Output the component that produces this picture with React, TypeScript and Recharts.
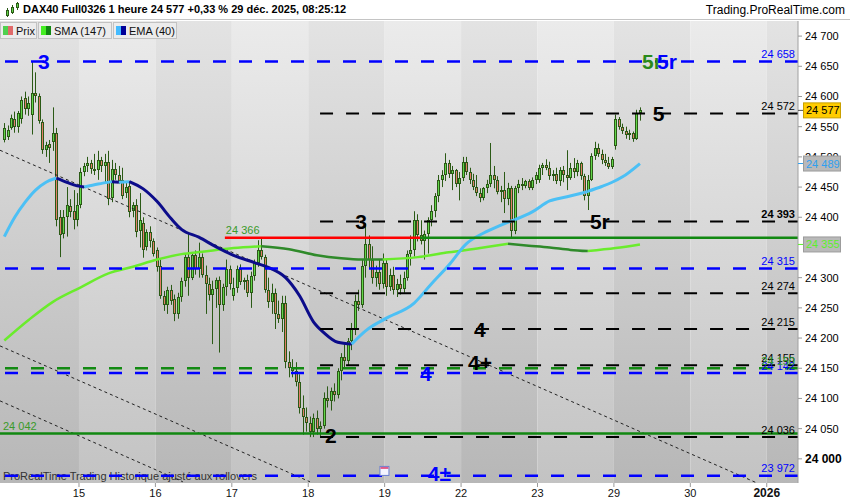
import React from 'react';
import {
  ComposedChart,
  Bar,
  Line,
  XAxis,
  YAxis,
  ReferenceLine,
  ReferenceArea,
  ReferenceDot,
} from 'recharts';

const FONT = '"Liberation Sans", Arial, sans-serif';

// barres horaires [ouverture, haut, bas, clôture], une liste par séance
const dec12 = [
  [24528, 24556, 24524, 24548], [24533, 24552, 24528, 24545], [24548, 24570, 24545, 24565],
  [24562, 24575, 24540, 24550], [24550, 24576, 24540, 24572], [24562, 24600, 24555, 24595],
  [24598, 24608, 24570, 24580], [24580, 24600, 24568, 24590], [24570, 24657, 24537, 24605],
  [24605, 24640, 24590, 24600], [24600, 24605, 24555, 24560], [24558, 24562, 24505, 24512],
  [24512, 24525, 24500, 24520], [24522, 24528, 24490, 24515], [24525, 24582, 24510, 24540],
  [24540, 24548, 24385, 24395], [24400, 24412, 24334, 24370], [24372, 24412, 24365, 24400],
  [24400, 24450, 24368, 24420], [24418, 24430, 24400, 24408], [24410, 24445, 24380, 24395],
  [24395, 24440, 24385, 24420],
];
const dec15 = [
  [24420, 24482, 24415, 24475], [24475, 24490, 24468, 24485], [24485, 24500, 24475, 24490],
  [24490, 24495, 24472, 24480], [24480, 24505, 24470, 24478], [24478, 24510, 24462, 24495],
  [24495, 24500, 24475, 24485], [24485, 24505, 24457, 24492], [24492, 24510, 24420, 24430],
  [24432, 24495, 24425, 24480], [24480, 24490, 24462, 24470], [24470, 24485, 24455, 24460],
  [24462, 24482, 24430, 24435], [24440, 24458, 24432, 24450], [24452, 24460, 24400, 24408],
  [24410, 24425, 24400, 24420], [24420, 24430, 24367, 24375], [24378, 24440, 24350, 24395],
  [24390, 24400, 24333, 24345], [24350, 24380, 24345, 24375], [24375, 24385, 24350, 24360],
  [24360, 24365, 24335, 24340],
];
const dec16 = [
  [24345, 24350, 24310, 24318], [24320, 24330, 24265, 24270], [24270, 24278, 24245, 24255],
  [24255, 24285, 24240, 24280], [24280, 24288, 24255, 24262], [24265, 24272, 24228, 24240],
  [24240, 24275, 24232, 24268], [24268, 24300, 24260, 24295], [24295, 24340, 24285, 24335],
  [24335, 24372, 24270, 24300], [24300, 24342, 24296, 24338], [24338, 24345, 24305, 24315],
  [24315, 24358, 24300, 24335], [24335, 24340, 24300, 24305], [24305, 24320, 24240, 24290],
  [24290, 24300, 24262, 24272], [24272, 24295, 24190, 24282], [24282, 24300, 24250, 24296],
  [24296, 24302, 24176, 24255], [24255, 24290, 24245, 24285], [24285, 24330, 24270, 24315],
  [24315, 24320, 24280, 24290],
];
const dec17 = [
  [24270, 24300, 24262, 24283], [24283, 24320, 24275, 24315], [24315, 24322, 24288, 24292],
  [24292, 24300, 24280, 24296], [24296, 24305, 24268, 24275], [24275, 24310, 24250, 24302],
  [24302, 24330, 24295, 24325], [24325, 24362, 24318, 24345], [24345, 24366, 24330, 24335],
  [24335, 24338, 24275, 24280], [24280, 24300, 24250, 24260], [24260, 24290, 24240, 24275],
  [24275, 24282, 24215, 24240], [24240, 24262, 24225, 24232], [24232, 24270, 24210, 24258],
  [24258, 24270, 24150, 24160], [24160, 24178, 24135, 24150], [24150, 24165, 24135, 24145],
  [24145, 24160, 24120, 24128], [24128, 24140, 24075, 24085], [24085, 24105, 24040, 24070],
  [24070, 24085, 24045, 24060],
];
const dec18 = [
  [24060, 24070, 24036, 24045], [24045, 24075, 24036, 24068], [24068, 24080, 24040, 24050],
  [24050, 24062, 24038, 24055], [24055, 24110, 24050, 24100], [24100, 24120, 24085, 24095],
  [24095, 24118, 24080, 24112], [24112, 24125, 24095, 24105], [24105, 24150, 24100, 24145],
  [24145, 24175, 24130, 24168], [24168, 24190, 24150, 24162], [24162, 24200, 24155, 24195],
  [24195, 24225, 24180, 24215], [24215, 24272, 24205, 24262], [24262, 24280, 24245, 24255],
  [24255, 24330, 24250, 24320], [24320, 24390, 24300, 24355], [24355, 24370, 24315, 24330],
  [24330, 24352, 24290, 24300], [24300, 24320, 24285, 24310], [24310, 24330, 24280, 24290],
  [24290, 24340, 24282, 24325],
];
const dec19 = [
  [24325, 24330, 24270, 24285], [24285, 24315, 24278, 24305], [24305, 24318, 24272, 24280],
  [24280, 24298, 24268, 24290], [24290, 24305, 24272, 24282], [24282, 24310, 24275, 24300],
  [24300, 24345, 24295, 24340], [24340, 24370, 24320, 24345], [24345, 24410, 24335, 24395],
  [24395, 24405, 24360, 24370], [24370, 24395, 24355, 24360], [24360, 24378, 24330, 24372],
  [24372, 24400, 24340, 24395], [24395, 24420, 24385, 24410], [24410, 24440, 24400, 24435],
  [24435, 24470, 24425, 24462], [24462, 24478, 24450, 24470], [24470, 24506, 24460, 24490],
  [24490, 24495, 24465, 24472], [24472, 24485, 24445, 24478], [24478, 24480, 24450, 24455],
  [24455, 24475, 24428, 24465],
];
const dec22 = [
  [24465, 24500, 24460, 24492], [24492, 24500, 24470, 24475], [24475, 24482, 24455, 24462],
  [24462, 24472, 24445, 24450], [24450, 24470, 24435, 24440], [24440, 24448, 24425, 24432],
  [24432, 24450, 24428, 24448], [24448, 24462, 24440, 24455], [24455, 24523, 24450, 24470],
  [24470, 24485, 24448, 24462], [24462, 24468, 24438, 24442], [24442, 24452, 24425, 24445],
  [24445, 24475, 24407, 24430], [24430, 24457, 24420, 24448], [24448, 24452, 24367, 24378],
  [24378, 24452, 24372, 24448], [24448, 24462, 24440, 24455], [24455, 24465, 24445, 24452],
  [24452, 24462, 24448, 24460], [24460, 24463, 24445, 24448], [24448, 24466, 24445, 24462],
  [24462, 24475, 24455, 24470],
];
const dec23 = [
  [24462, 24487, 24457, 24482], [24482, 24490, 24470, 24486], [24486, 24496, 24478, 24482],
  [24482, 24492, 24462, 24468], [24468, 24478, 24460, 24472], [24472, 24482, 24455, 24460],
  [24460, 24483, 24452, 24478], [24478, 24485, 24458, 24470], [24470, 24511, 24445, 24465],
  [24465, 24490, 24462, 24482], [24482, 24498, 24465, 24475], [24475, 24495, 24468, 24490],
  [24490, 24492, 24462, 24468], [24468, 24472, 24428, 24435], [24435, 24470, 24412, 24462],
  [24462, 24506, 24460, 24502], [24502, 24525, 24495, 24515], [24515, 24522, 24500, 24505],
  [24505, 24512, 24488, 24495], [24495, 24505, 24485, 24490], [24490, 24500, 24480, 24484],
  [24484, 24500, 24480, 24497],
];
const dec29 = [
  [24518, 24570, 24512, 24562], [24562, 24566, 24545, 24550], [24550, 24555, 24538, 24543],
  [24543, 24550, 24530, 24536], [24536, 24545, 24528, 24540], [24540, 24542, 24525, 24530],
  [24530, 24578, 24528, 24572], [24572, 24582, 24560, 24577],
];
const sessions = [dec12, dec15, dec16, dec17, dec18, dec19, dec22, dec23, dec29];

// axe des temps (indice de barre)
const X_MIN = -1.24;
const X_MAX = 228.5;
const dayTicks = [21.5, 43.5, 65.5, 87.5, 109.5, 131.5, 153.5, 175.5, 197.5, 219.5];
const dayLabels = ['15', '16', '17', '18', '19', '22', '23', '29', '30', '2026'];
// 24 350 est masqué par le repère de la SMA
const priceTicks = [
  24000, 24050, 24100, 24150, 24200, 24250, 24300,
  24400, 24450, 24500, 24550, 24600, 24650, 24700,
];

// moyennes [indice, valeur]
const ema40 = [
  [0, 24368], [3, 24400], [6, 24425], [9, 24445], [12, 24458], [15, 24465], [18, 24458],
  [21, 24452], [23, 24450], [27, 24455], [31, 24459], [33, 24458], [36, 24459], [40, 24447],
  [44, 24426], [48, 24398], [51, 24380], [56, 24367], [61, 24351], [66, 24337], [72, 24325],
  [76, 24317], [81, 24300], [85, 24270], [89, 24227], [92, 24209], [96, 24193], [100, 24190],
  [104, 24212], [110, 24233], [118, 24258], [123, 24290], [128, 24321], [133, 24356],
  [138, 24374], [143, 24387], [146, 24394], [147, 24396], [152, 24409], [157, 24427],
  [162, 24434], [167, 24441], [168, 24443], [172, 24451], [175, 24458], [178, 24467], [183, 24489],
];
const emaTurns = [0, 15, 23, 31, 33, 36, 100, 146, 147, 167, 168, 183];
const sma147 = [
  [0, 24196], [7, 24230], [14, 24260], [22, 24284], [30, 24307], [37, 24318], [44, 24330],
  [51, 24339], [57, 24343], [66, 24349], [74, 24352], [82, 24347], [90, 24337], [97, 24332],
  [103, 24330], [109, 24330], [119, 24334], [128, 24342], [137, 24349], [145, 24356],
  [151, 24353], [157, 24350], [163, 24346], [168, 24344], [176, 24349], [183, 24355],
];
const smaTurns = [0, 74, 109, 145, 168, 183];

// niveaux
const blueLevels = [24658, 24315, 24142, 23972];
const blackLevels = [24572, 24393, 24274, 24215, 24155, 24036];
const greenDashLevels = [24150];
const supportLevel = 24042;
const resistLevel = 24366;
const lastPrice = 24577;
const lastEma = 24489;
const lastSma = 24355;

const candles = sessions.flat().map((b, i) => ({
  i,
  o: b[0],
  h: b[1],
  l: b[2],
  c: b[3],
  range: [b[2], b[1]],
}));

// segments montants / descendants (couleur selon la pente)
function segments(pts: number[][], turns: number[]) {
  const out: { rising: boolean; data: { i: number; v: number }[] }[] = [];
  for (let k = 0; k < turns.length - 1; k++) {
    const a = turns[k];
    const b = turns[k + 1];
    const data = pts.filter((p) => p[0] >= a && p[0] <= b).map((p) => ({ i: p[0], v: p[1] }));
    const rising = data[data.length - 1].v >= data[0].v;
    out.push({ rising, data });
  }
  return out;
}
const emaSegs = segments(ema40, emaTurns);
const smaSegs = segments(sma147, smaTurns);

const fmt = (v: number) => {
  const s = String(v);
  return s.slice(0, s.length - 3) + ' ' + s.slice(s.length - 3);
};

const WICK = '#2b5a16';
const UP = '#62d64a';
const DOWN = '#e27d68';

const Candle = (p: any) => {
  const { x, y, width, height, payload } = p;
  if (!payload) return null;
  const { o, h, l, c } = payload;
  const cx = Math.round(x + width / 2);
  const k = h > l ? height / (h - l) : 0;
  const yOf = (v: number) => y + (h - v) * k;
  const top = Math.round(yOf(Math.max(o, c)));
  const bot = Math.round(yOf(Math.min(o, c)));
  return (
    <g>
      <line x1={cx + 0.5} x2={cx + 0.5} y1={y} y2={y + height} stroke={WICK} strokeWidth={1} />
      <rect
        x={cx - 0.5}
        y={top + 0.5}
        width={2}
        height={Math.max(bot - top - 1, 1)}
        fill={c >= o ? UP : DOWN}
        stroke={WICK}
        strokeWidth={1}
      />
    </g>
  );
};

const YTick = ({ x, y, payload }: any) => {
  const bold = payload.value === 24000;
  return (
    <text x={x} y={y} dy={4} fontSize={bold ? 12 : 11} fontWeight={bold ? 'bold' : 'normal'} fill="#000" fontFamily={FONT}>
      {fmt(payload.value)}
    </text>
  );
};

const XTick = ({ x, y, payload }: any) => {
  const idx = dayTicks.indexOf(payload.value);
  const label = dayLabels[idx] ?? '';
  const bold = label === '2026';
  return (
    <text x={x} y={y} dy={9} textAnchor="middle" fontSize={bold ? 12 : 11} fontWeight={bold ? 'bold' : 'normal'} fill="#111" fontFamily={FONT}>
      {label}
    </text>
  );
};

const rightLabel = (txt: string, color: string, bold = false) => (p: any) => (
  <text x={p.cx - 3} y={p.cy - 3.5} textAnchor="end" fontSize={11} fontWeight={bold ? 'bold' : 'normal'} fill={color} fontFamily={FONT}>
    {txt}
  </text>
);

const wave = (txt: string, color: string) => (p: any) => (
  <text x={p.cx} y={p.cy} dy={7.5} fontSize={21} fontWeight="bold" fill={color} fontFamily={FONT}>
    {txt}
  </text>
);

const marker = (txt: string, box: string, border: string, color: string) => (p: any) => (
  <g>
    <line x1={p.cx} x2={p.cx + 5} y1={p.cy} y2={p.cy} stroke={color === '#000' ? '#555' : color} strokeWidth={1} />
    <rect x={p.cx + 5.5} y={p.cy - 7.5} width={37} height={15} fill={box} stroke={border} strokeWidth={1} />
    <text x={p.cx + 8} y={p.cy + 4} fontSize={11} fill={color} fontFamily={FONT}>
      {txt}
    </text>
  </g>
);

const bandEdges = [X_MIN, ...dayTicks, X_MAX];

export default function App() {
  return (
    <div style={{ position: 'relative', width: 850, height: 500, background: '#fff', fontFamily: FONT }}>
      <style>{'body{margin:0}'}</style>
      <ComposedChart
        width={850}
        height={500}
        data={candles}
        margin={{ top: 21, right: 0, bottom: 0, left: 0 }}
      >
        <defs>
          <linearGradient id="bandLight" x1="0" y1="0" x2="0" y2="1">
            <stop offset="0%" stopColor="#ebebeb" />
            <stop offset="100%" stopColor="#c3c3c3" />
          </linearGradient>
          <linearGradient id="bandDark" x1="0" y1="0" x2="0" y2="1">
            <stop offset="0%" stopColor="#e3e3e3" />
            <stop offset="100%" stopColor="#b7b7b7" />
          </linearGradient>
        </defs>
        <XAxis
          dataKey="i"
          type="number"
          domain={[X_MIN, X_MAX]}
          allowDataOverflow
          ticks={dayTicks}
          interval={0}
          height={17}
          tickSize={4}
          tickMargin={1}
          axisLine={false}
          tickLine={{ stroke: '#999' }}
          tick={<XTick />}
        />
        <YAxis
          orientation="right"
          type="number"
          domain={[23960, 24725]}
          allowDataOverflow
          ticks={priceTicks}
          interval={0}
          width={52}
          tickSize={4}
          tickMargin={3}
          axisLine={{ stroke: '#a0a0a0' }}
          tickLine={{ stroke: '#999' }}
          tick={<YTick />}
        />
        {bandEdges.slice(0, -1).map((a, k) => (
          <ReferenceArea
            key={'band' + k}
            x1={a}
            x2={bandEdges[k + 1]}
            fill={k % 2 === 0 ? 'url(#bandDark)' : 'url(#bandLight)'}
            fillOpacity={1}
            stroke="none"
            ifOverflow="hidden"
          />
        ))}
        <ReferenceDot
          x={X_MIN}
          y={23972}
          ifOverflow="visible"
          zIndex={150}
          shape={(p: any) => (
            <text x={p.cx + 3} y={p.cy + 4} fontSize={11} fill="#333" fontFamily={FONT}>
              ProRealTime Trading  Historique ajusté aux rollovers
            </text>
          )}
        />
        {/* droites de tendance */}
        <ReferenceLine segment={[{ x: X_MIN, y: 24511 }, { x: 216.7, y: 23960 }]} stroke="#222" strokeDasharray="3 3" strokeWidth={1} ifOverflow="hidden" />
        <ReferenceLine segment={[{ x: X_MIN, y: 24096 }, { x: 51.4, y: 23962 }]} stroke="#222" strokeDasharray="3 3" strokeWidth={1} ifOverflow="hidden" />
        <ReferenceLine segment={[{ x: X_MIN, y: 24187 }, { x: 88, y: 23962 }]} stroke="#222" strokeDasharray="3 3" strokeWidth={1} ifOverflow="hidden" />

        <Bar dataKey="range" barSize={3} shape={(p: any) => <Candle {...p} />} isAnimationActive={false} />

        {smaSegs.map((s, k) => (
          <Line
            key={'sma' + k}
            data={s.data}
            dataKey="v"
            type="monotone"
            stroke={s.rising ? '#6aec2c' : '#2f8a2a'}
            strokeWidth={2.5}
            dot={false}
            activeDot={false}
            isAnimationActive={false}
          />
        ))}
        {emaSegs.map((s, k) => (
          <Line
            key={'ema' + k}
            data={s.data}
            dataKey="v"
            type="monotone"
            stroke={s.rising ? '#4cc0f5' : '#0c0c8a'}
            strokeWidth={3}
            dot={false}
            activeDot={false}
            isAnimationActive={false}
          />
        ))}

        {blueLevels.map((lv) => (
          <ReferenceLine key={'b' + lv} y={lv} stroke="#0000ff" strokeDasharray="13 13" strokeWidth={2.5} />
        ))}
        {greenDashLevels.map((lv) => (
          <ReferenceLine key={'g' + lv} y={lv} stroke="#128a12" strokeDasharray="13 13" strokeWidth={2.5} />
        ))}
        {blackLevels.map((lv) => (
          <ReferenceLine
            key={'k' + lv}
            segment={[{ x: 90.9, y: lv }, { x: X_MAX, y: lv }]}
            stroke="#000"
            strokeDasharray="13 13"
            strokeWidth={2}
          />
        ))}
        <ReferenceLine y={supportLevel} stroke="#118811" strokeWidth={2.5} />
        <ReferenceLine segment={[{ x: 63.5, y: resistLevel }, { x: 119.7, y: resistLevel }]} stroke="#ff0000" strokeWidth={2.5} />
        <ReferenceLine segment={[{ x: 119.7, y: resistLevel }, { x: X_MAX, y: resistLevel }]} stroke="#118811" strokeWidth={2.5} />

        {/* étiquettes des niveaux */}
        {blueLevels.map((lv) => (
          <ReferenceDot key={'bl' + lv} x={X_MAX} y={lv} ifOverflow="visible" shape={rightLabel(fmt(lv), '#0000ff')} />
        ))}
        {blackLevels.map((lv) => (
          <ReferenceDot key={'kl' + lv} x={X_MAX} y={lv} ifOverflow="visible" shape={rightLabel(fmt(lv), '#000', lv === 24393)} />
        ))}
        {greenDashLevels.map((lv) => (
          <ReferenceDot key={'gl' + lv} x={X_MAX} y={lv} ifOverflow="visible" shape={rightLabel(fmt(lv), '#2f9a2f')} />
        ))}
        <ReferenceDot
          x={63.5}
          y={resistLevel}
          ifOverflow="visible"
          shape={(p: any) => (
            <text x={p.cx + 1} y={p.cy - 3.5} fontSize={11} fill="#3a9a2a" fontFamily={FONT}>
              {fmt(resistLevel)}
            </text>
          )}
        />
        <ReferenceDot
          x={X_MIN}
          y={supportLevel}
          ifOverflow="visible"
          shape={(p: any) => (
            <text x={p.cx + 3} y={p.cy - 3.5} fontSize={11} fill="#3a9a2a" fontFamily={FONT}>
              {fmt(supportLevel)}
            </text>
          )}
        />

        {/* comptage des vagues */}
        <ReferenceDot x={9.7} y={24658} ifOverflow="visible" shape={wave('3', '#0000ff')} />
        <ReferenceDot x={183.6} y={24658} ifOverflow="visible" shape={wave('5r', '#2a8a1a')} />
        <ReferenceDot x={187.9} y={24658} ifOverflow="visible" shape={wave('5r', '#0000ff')} />
        <ReferenceDot x={186.7} y={24572} ifOverflow="visible" shape={wave('5', '#000')} />
        <ReferenceDot x={101} y={24393} ifOverflow="visible" shape={wave('3', '#000')} />
        <ReferenceDot x={168.6} y={24393} ifOverflow="visible" shape={wave('5r', '#000')} />
        <ReferenceDot x={135.2} y={24215} ifOverflow="visible" shape={wave('4', '#000')} />
        <ReferenceDot x={133.5} y={24160} ifOverflow="visible" shape={wave('4+', '#000')} />
        <ReferenceDot x={119.7} y={24142} ifOverflow="visible" shape={wave('4', '#0000ff')} />
        <ReferenceDot x={92.3} y={24039} ifOverflow="visible" shape={wave('2', '#000')} />
        <ReferenceDot x={121.9} y={23975} ifOverflow="visible" shape={wave('4±', '#0000ff')} />
        <ReferenceDot
          x={108}
          y={23980}
          ifOverflow="visible"
          shape={(p: any) => (
            <g>
              <rect x={p.cx + 0.5} y={p.cy - 4.5} width={9} height={9} fill="#f4f4ff" stroke="#6a7fd0" strokeWidth={1} />
              <rect x={p.cx + 1} y={p.cy - 4} width={8} height={2} fill="#e05a8a" />
            </g>
          )}
        />

        {/* repères sur l'axe des prix */}
        <ReferenceDot x={X_MAX} y={lastEma} ifOverflow="visible" zIndex={3000} shape={marker(fmt(lastEma), '#b9b9b9', '#9c9c9c', '#2fa0f0')} />
        <ReferenceDot x={X_MAX} y={lastSma} ifOverflow="visible" zIndex={3000} shape={marker(fmt(lastSma), '#b9b9b9', '#9c9c9c', '#5cf02a')} />
        <ReferenceDot x={X_MAX} y={lastPrice} ifOverflow="visible" zIndex={3000} shape={marker(fmt(lastPrice), '#ffcc00', '#c9a000', '#000')} />
      </ComposedChart>

      {/* en-tête */}
      <div
        style={{
          position: 'absolute',
          left: 0,
          top: 0,
          width: 850,
          height: 20,
          background: '#fff',
          borderBottom: '1px solid #c4c4c4',
          boxSizing: 'border-box',
        }}
      >
        <svg width={16} height={16} style={{ position: 'absolute', left: 4, top: 2 }}>
          <line x1={3.5} x2={3.5} y1={6} y2={15} stroke={WICK} />
          <rect x={2.5} y={8.5} width={2} height={5} fill={UP} stroke={WICK} />
          <line x1={8.5} x2={8.5} y1={3} y2={12} stroke={WICK} />
          <rect x={7.5} y={5.5} width={2} height={5} fill={UP} stroke={WICK} />
          <line x1={13.5} x2={13.5} y1={0} y2={8} stroke={WICK} />
          <rect x={12.5} y={1.5} width={2} height={4} fill={UP} stroke={WICK} />
        </svg>
        <span style={{ position: 'absolute', left: 23, top: 3, fontSize: 11, fontWeight: 'bold', color: '#000' }}>
          DAX40 Full0326 1 heure 24 577 +0,33 % 29 déc. 2025, 08:25:12
        </span>
        <span style={{ position: 'absolute', right: 5, top: 3, fontSize: 12, color: '#000' }}>
          Trading.ProRealTime.com
        </span>
      </div>

      {/* légende */}
      {[
        { left: 0, w: 37, name: 'Prix', c1: '#4fd04f', c2: '#e06a6a' },
        { left: 38, w: 74, name: 'SMA (147)', c1: '#44ee22', c2: '#118811' },
        { left: 113, w: 64, name: 'EMA (40)', c1: '#44bbff', c2: '#000099' },
      ].map((b) => (
        <div
          key={b.name}
          style={{
            position: 'absolute',
            left: b.left,
            top: 22,
            width: b.w,
            height: 17,
            background: '#ececec',
            border: '1px solid #c2c2c2',
            boxSizing: 'border-box',
            fontSize: 11,
            color: '#111',
          }}
        >
          <span style={{ position: 'absolute', left: 2, top: 3, width: 5, height: 9, background: b.c1 }} />
          <span style={{ position: 'absolute', left: 7, top: 3, width: 5, height: 9, background: b.c2 }} />
          <span style={{ position: 'absolute', left: 15, top: 1.5 }}>{b.name}</span>
        </div>
      ))}
    </div>
  );
}
